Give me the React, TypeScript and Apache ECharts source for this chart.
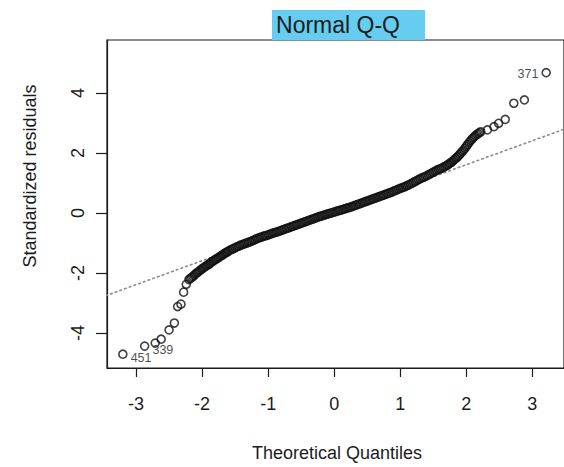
import React, { useEffect, useRef } from "react";
import * as echarts from "echarts";

// Theoretical quantiles (x) and standardized residuals (y)
const theoreticalQuantiles = [
  -3.2, -2.87, -2.71, -2.62, -2.5, -2.42, -2.37, -2.32, -2.28, -2.24,
  -2.2, -2.18, -2.16, -2.14, -2.12, -2.1, -2.08, -2.06, -2.04, -2.02,
  -2.0, -1.98, -1.96, -1.94, -1.92, -1.9, -1.88, -1.86, -1.84, -1.82,
  -1.8, -1.78, -1.76, -1.74, -1.72, -1.7, -1.68, -1.66, -1.64, -1.62,
  -1.6, -1.575, -1.55, -1.525, -1.5, -1.475, -1.45, -1.425, -1.4, -1.375,
  -1.35, -1.325, -1.3, -1.275, -1.25, -1.225, -1.2, -1.175, -1.15, -1.125,
  -1.1, -1.075, -1.05, -1.025, -1.0, -0.975, -0.95, -0.925, -0.9, -0.875,
  -0.85, -0.825, -0.8, -0.775, -0.75, -0.725, -0.7, -0.675, -0.65, -0.625,
  -0.6, -0.575, -0.55, -0.525, -0.5, -0.475, -0.45, -0.425, -0.4, -0.375,
  -0.35, -0.325, -0.3, -0.275, -0.25, -0.225, -0.2, -0.175, -0.15, -0.125,
  -0.1, -0.075, -0.05, -0.025, 0.0, 0.025, 0.05, 0.075, 0.1, 0.125,
  0.15, 0.175, 0.2, 0.225, 0.25, 0.275, 0.3, 0.325, 0.35, 0.375,
  0.4, 0.425, 0.45, 0.475, 0.5, 0.525, 0.55, 0.575, 0.6, 0.625,
  0.65, 0.675, 0.7, 0.725, 0.75, 0.775, 0.8, 0.825, 0.85, 0.875,
  0.9, 0.925, 0.95, 0.975, 1.0, 1.025, 1.05, 1.075, 1.1, 1.125,
  1.15, 1.175, 1.2, 1.225, 1.25, 1.275, 1.3, 1.325, 1.35, 1.375,
  1.4, 1.425, 1.45, 1.475, 1.5, 1.525, 1.55, 1.575, 1.6, 1.625,
  1.65, 1.675, 1.7, 1.72, 1.74, 1.76, 1.78, 1.8, 1.82, 1.84,
  1.86, 1.88, 1.9, 1.92, 1.94, 1.96, 1.98, 2.0, 2.02, 2.04,
  2.06, 2.08, 2.1, 2.12, 2.14, 2.16, 2.18, 2.2, 2.22, 2.32,
  2.42, 2.49, 2.59, 2.72, 2.88, 3.21,
];
const standardizedResiduals = [
  -4.71, -4.44, -4.34, -4.21, -3.9, -3.67, -3.12, -3.04, -2.64, -2.38,
  -2.22, -2.19, -2.15, -2.12, -2.08, -2.03, -2.0, -1.97, -1.93, -1.9,
  -1.86, -1.83, -1.8, -1.77, -1.74, -1.71, -1.68, -1.64, -1.61, -1.58,
  -1.55, -1.53, -1.5, -1.47, -1.44, -1.41, -1.38, -1.35, -1.32, -1.3,
  -1.27, -1.24, -1.21, -1.19, -1.16, -1.13, -1.11, -1.08, -1.06, -1.04,
  -1.02, -1.0, -0.98, -0.96, -0.94, -0.91, -0.89, -0.86, -0.84, -0.82,
  -0.8, -0.78, -0.76, -0.75, -0.73, -0.71, -0.69, -0.67, -0.65, -0.64,
  -0.62, -0.6, -0.58, -0.56, -0.54, -0.52, -0.5, -0.48, -0.46, -0.44,
  -0.42, -0.4, -0.38, -0.36, -0.34, -0.32, -0.3, -0.28, -0.26, -0.24,
  -0.22, -0.2, -0.18, -0.16, -0.14, -0.12, -0.1, -0.09, -0.07, -0.05,
  -0.03, -0.02, 0.0, 0.01, 0.03, 0.05, 0.07, 0.08, 0.1, 0.11,
  0.13, 0.15, 0.17, 0.18, 0.2, 0.22, 0.24, 0.26, 0.28, 0.3,
  0.32, 0.34, 0.36, 0.38, 0.4, 0.42, 0.44, 0.46, 0.48, 0.5,
  0.52, 0.54, 0.56, 0.58, 0.6, 0.62, 0.64, 0.66, 0.68, 0.7,
  0.73, 0.75, 0.77, 0.8, 0.82, 0.84, 0.86, 0.88, 0.91, 0.93,
  0.96, 0.99, 1.02, 1.05, 1.08, 1.11, 1.14, 1.17, 1.19, 1.21,
  1.24, 1.27, 1.3, 1.33, 1.36, 1.39, 1.42, 1.45, 1.47, 1.49,
  1.52, 1.55, 1.58, 1.61, 1.64, 1.67, 1.7, 1.74, 1.78, 1.82,
  1.86, 1.9, 1.95, 2.0, 2.05, 2.1, 2.16, 2.22, 2.28, 2.34,
  2.4, 2.45, 2.5, 2.54, 2.58, 2.62, 2.65, 2.68, 2.71, 2.77,
  2.88, 2.99, 3.12, 3.66, 3.77, 4.68,
];
// Identified observations: their ids, matched to the extreme points above
const labeledIds = ["451", "339", "371"];
const labeledIndices = [0, 1, theoreticalQuantiles.length - 1];

// Q-Q reference line end points
const qqLineX = [-3.6, 3.6];
const qqLineY = [-2.87, 2.89];

const xTicks = [-3, -2, -1, 0, 1, 2, 3];
const yTicks = [-4, -2, 0, 2, 4];

const titleText = "Normal Q-Q";
const xTitle = "Theoretical Quantiles";
const yTitle = "Standardized residuals";

const FONT = "Liberation Sans, Arial, Helvetica, sans-serif";
const INK = "#1c1c1c";

export default function App() {
  const ref = useRef<HTMLDivElement>(null);

  useEffect(() => {
    if (!ref.current) return;
    const chart = echarts.init(ref.current, undefined, { renderer: "svg" });

    const scatterData = theoreticalQuantiles.map((x, i) => {
      const li = labeledIndices.indexOf(i);
      const item: any = { value: [x, standardizedResiduals[i]] };
      if (li >= 0) {
        const onRight = x < 0;
        item.label = {
          show: true,
          formatter: labeledIds[li],
          position: onRight ? "right" : "left",
          distance: 3,
          offset: onRight ? [0, 4] : [0, 1],
          fontSize: 12.5,
          color: INK,
          fontFamily: FONT,
        };
      }
      return item;
    });

    chart.setOption({
      animation: false,
      backgroundColor: "#ffffff",
      grid: {
        left: 107,
        right: -3,
        top: 40,
        bottom: 99,
        show: true,
        borderColor: INK,
        borderWidth: 1.2,
        backgroundColor: "transparent",
      },
      xAxis: {
        type: "value",
        min: -3.44,
        max: 3.48,
        axisLine: { show: true, onZero: false, lineStyle: { color: INK, width: 1.2 } },
        splitLine: { show: false },
        axisTick: {
          show: true,
          customValues: xTicks,
          length: 9,
          lineStyle: { color: INK, width: 1.2 },
        },
        axisLabel: {
          customValues: xTicks,
          fontSize: 18,
          color: INK,
          fontFamily: FONT,
          margin: 27,
        },
      },
      yAxis: {
        type: "value",
        min: -5.17,
        max: 5.77,
        axisLine: { show: true, onZero: false, lineStyle: { color: INK, width: 1.2 } },
        splitLine: { show: false },
        axisTick: {
          show: true,
          customValues: yTicks,
          length: 11,
          lineStyle: { color: INK, width: 1.2 },
        },
        axisLabel: {
          customValues: yTicks,
          fontSize: 18,
          color: INK,
          fontFamily: FONT,
          rotate: 90,
          margin: 20,
        },
      },
      graphic: [
        {
          type: "rect",
          shape: { x: 272, y: 10, width: 153, height: 30 },
          style: { fill: "#66cdf0" },
          z: 1,
        },
        {
          type: "text",
          x: 338,
          y: 25,
          z: 2,
          style: {
            text: titleText,
            fontSize: 23,
            fontFamily: FONT,
            fill: INK,
            textAlign: "center",
            textVerticalAlign: "middle",
          },
        },
        {
          type: "text",
          x: 337,
          y: 453,
          style: {
            text: xTitle,
            fontSize: 18,
            fontFamily: FONT,
            fill: INK,
            textAlign: "center",
            textVerticalAlign: "middle",
          },
        },
        {
          type: "text",
          x: 30,
          y: 176,
          rotation: Math.PI / 2,
          style: {
            text: yTitle,
            fontSize: 18,
            fontFamily: FONT,
            fill: INK,
            textAlign: "center",
            textVerticalAlign: "middle",
          },
        },
      ],
      series: [
        {
          type: "line",
          data: qqLineX.map((x, i) => [x, qqLineY[i]]),
          symbol: "none",
          clip: true,
          lineStyle: { color: "#8a8a8a", width: 1.6, type: [1.6, 3.4], cap: "round" },
          silent: true,
          z: 1,
        },
        {
          type: "scatter",
          data: scatterData,
          symbol: "circle",
          symbolSize: 8,
          clip: false,
          itemStyle: {
            color: "rgba(0,0,0,0)",
            borderColor: "#111111",
            borderWidth: 1.6,
          },
          z: 2,
        },
      ],
    });

    return () => {
      chart.dispose();
    };
  }, []);

  return <div ref={ref} style={{ width: 564, height: 467, position: "absolute", left: 0, top: 0 }} />;
}
